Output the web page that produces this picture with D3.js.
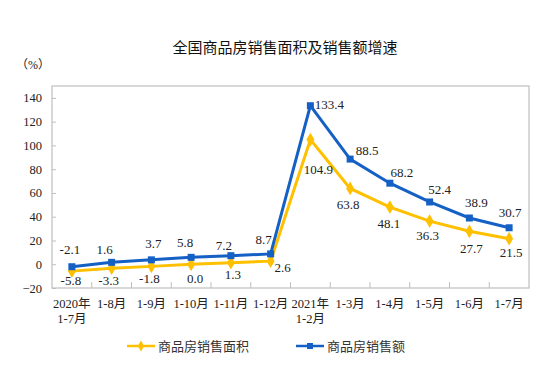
<!DOCTYPE html>
<html><head><meta charset="utf-8">
<script src="https://cdn.jsdelivr.net/npm/d3@7"></script>
<style>body{margin:0;background:#fff}</style>
</head><body>
<script>
const categories = [["2020年","1-7月"],["1-8月"],["1-9月"],["1-10月"],["1-11月"],["1-12月"],["2021年","1-2月"],["1-3月"],["1-4月"],["1-5月"],["1-6月"],["1-7月"]];
const areaGrowth = [-5.8,-3.3,-1.8,0.0,1.3,2.6,104.9,63.8,48.1,36.3,27.7,21.5];
const salesGrowth = [-2.1,1.6,3.7,5.8,7.2,8.7,133.4,88.5,68.2,52.4,38.9,30.7];
const yTicks = [-20,0,20,40,60,80,100,120,140];
const seriesNames = ["商品房销售面积","商品房销售额"];

const W=558,H=368;
const m={l:52,r:29,t:86,b:80};
const svg=d3.select("body").append("svg").attr("width",W).attr("height",H);
const serif='"Liberation Serif","Times New Roman","Noto Sans CJK SC",serif';
const cjk='"Noto Sans CJK SC",sans-serif';
const yellow="#FFC000", blue="#1560C4";

const x=d3.scaleBand().domain(d3.range(categories.length)).range([m.l,W-m.r]);
const y=d3.scaleLinear().domain([-20,150]).range([H-m.b,m.t]);
const cx=i=>x(i)+x.bandwidth()/2;

svg.append("text").attr("x",285).attr("y",53).attr("text-anchor","middle")
  .attr("font-family",cjk).attr("font-size",15).attr("fill","#111").text("全国商品房销售面积及销售额增速");
svg.append("text").attr("x",16).attr("y",69).attr("font-family",serif).attr("font-size",12).attr("fill","#222").text("（%）");

// frame
svg.append("rect").attr("x",m.l).attr("y",m.t).attr("width",W-m.r-m.l).attr("height",H-m.b-m.t)
  .attr("fill","none").attr("stroke","#bfbfbf").attr("stroke-width",1.2);

// y axis
const ya=svg.append("g").attr("transform",`translate(${m.l},0)`)
  .call(d3.axisLeft(y).tickValues(yTicks).tickSize(-4).tickPadding(10));
ya.select(".domain").remove();
ya.selectAll("line").attr("stroke","#bfbfbf");
ya.selectAll("text").attr("font-family",serif).attr("font-size",12.5).attr("fill","#222");

// x axis ticks (boundaries)
const xb=d3.range(1,categories.length);
svg.selectAll(".xt").data(xb).join("line")
  .attr("x1",i=>x(i)).attr("x2",i=>x(i)).attr("y1",H-m.b).attr("y2",H-m.b-6)
  .attr("stroke","#bfbfbf");
const xl=svg.selectAll(".xl").data(categories).join("text")
  .attr("text-anchor","middle").attr("font-family",serif).attr("font-size",12.5).attr("fill","#222");
xl.each(function(d,i){
  const t=d3.select(this);
  d.forEach((s,k)=>t.append("tspan").attr("x",cx(i)).attr("y",H-m.b+20+k*15).text(s));
});

const line=d3.line().x((d,i)=>cx(i)).y(d=>y(d));
svg.append("path").datum(areaGrowth).attr("d",line).attr("fill","none").attr("stroke",yellow).attr("stroke-width",3);
svg.append("path").datum(salesGrowth).attr("d",line).attr("fill","none").attr("stroke",blue).attr("stroke-width",3);

const diamond=d3.symbol().type(d3.symbolDiamond).size(55);
svg.selectAll(".dy").data(areaGrowth).join("path")
  .attr("transform",(d,i)=>`translate(${cx(i)},${y(d)})`).attr("d",diamond).attr("fill",yellow);
svg.selectAll(".sq").data(salesGrowth).join("rect")
  .attr("x",(d,i)=>cx(i)-3.5).attr("y",d=>y(d)-3.5).attr("width",7).attr("height",7).attr("fill",blue);

// label nudges (layout only)
const blueOff=[[-2,-13],[-7,-8],[2,-12],[-6,-10],[-7,-6],[-7,-10],[19,3],[17,-4],[12,-6],[10,-8],[7,-11],[1,-11]];
const yelOff=[[-1,14],[-3,17],[-2,17],[4,19],[2,16],[12,11],[8,34],[-2,21],[-1,21],[-2,19],[2,22],[2,18]];
svg.selectAll(".bl").data(salesGrowth).join("text")
  .attr("x",(d,i)=>cx(i)+blueOff[i][0]).attr("y",(d,i)=>y(d)+blueOff[i][1])
  .attr("text-anchor","middle").attr("font-family",serif).attr("font-size",13).attr("fill","#222")
  .text(d=>d.toFixed(1));
svg.selectAll(".yl").data(areaGrowth).join("text")
  .attr("x",(d,i)=>cx(i)+yelOff[i][0]).attr("y",(d,i)=>y(d)+yelOff[i][1])
  .attr("text-anchor","middle").attr("font-family",serif).attr("font-size",13).attr("fill","#222")
  .text(d=>d.toFixed(1));

// legend
const lg=[{c:yellow,n:seriesNames[0],x:127,s:"d"},{c:blue,n:seriesNames[1],x:296,s:"s"}];
lg.forEach(o=>{
  svg.append("line").attr("x1",o.x).attr("x2",o.x+28).attr("y1",346).attr("y2",346).attr("stroke",o.c).attr("stroke-width",2.5);
  if(o.s==="d") svg.append("path").attr("transform",`translate(${o.x+14},346)`).attr("d",d3.symbol().type(d3.symbolDiamond).size(35)).attr("fill",o.c);
  else svg.append("rect").attr("x",o.x+11).attr("y",343).attr("width",6).attr("height",6).attr("fill",o.c);
  svg.append("text").attr("x",o.x+31).attr("y",351).attr("font-family",cjk).attr("font-size",13).attr("fill","#333").text(o.n);
});
</script>
</body></html>
